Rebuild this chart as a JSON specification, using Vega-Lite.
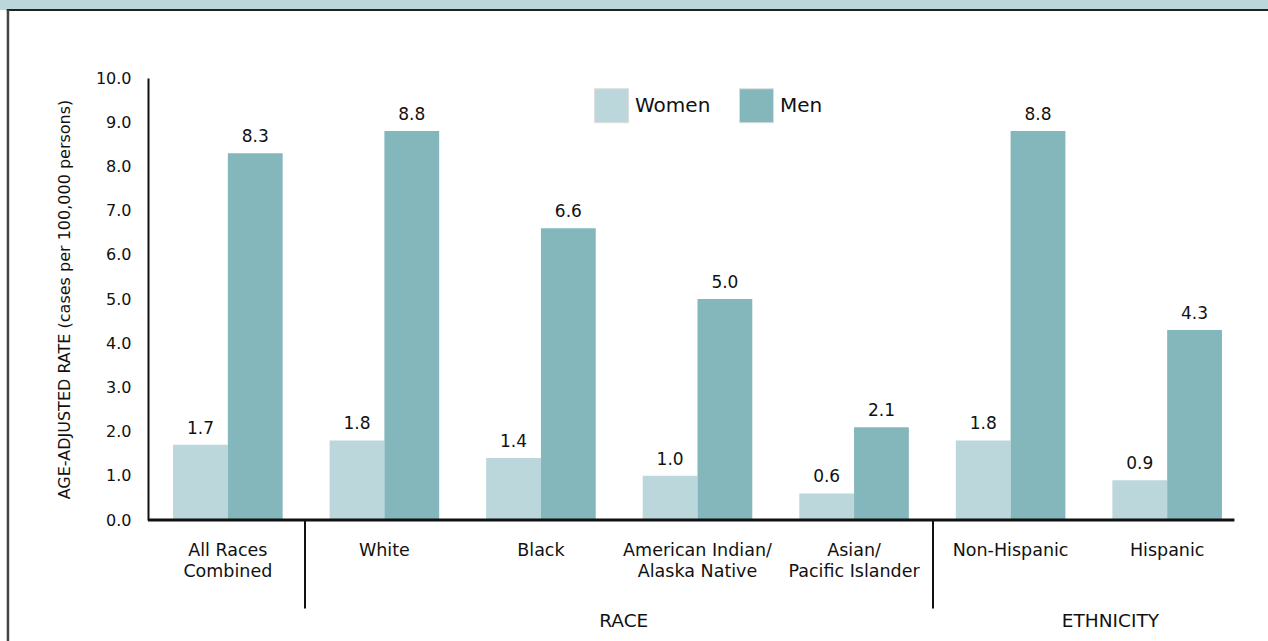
{
  "$schema": "https://vega.github.io/schema/vega-lite/v6.json",
  "width": 1099,
  "height": 442,
  "autosize": {"type": "none"},
  "padding": {"left": 148, "top": 78, "right": 21, "bottom": 121},
  "background": "white",
  "config": {
    "font": "DejaVu Sans",
    "view": {"stroke": null},
    "axis": {"labelColor": "#111", "titleColor": "#111"}
  },
  "data": {
    "values": [
      {"group": "All Races Combined", "sex": "Women", "rate": 1.7},
      {"group": "All Races Combined", "sex": "Men", "rate": 8.3},
      {"group": "White", "sex": "Women", "rate": 1.8},
      {"group": "White", "sex": "Men", "rate": 8.8},
      {"group": "Black", "sex": "Women", "rate": 1.4},
      {"group": "Black", "sex": "Men", "rate": 6.6},
      {"group": "American Indian/Alaska Native", "sex": "Women", "rate": 1.0},
      {"group": "American Indian/Alaska Native", "sex": "Men", "rate": 5.0},
      {"group": "Asian/Pacific Islander", "sex": "Women", "rate": 0.6},
      {"group": "Asian/Pacific Islander", "sex": "Men", "rate": 2.1},
      {"group": "Non-Hispanic", "sex": "Women", "rate": 1.8},
      {"group": "Non-Hispanic", "sex": "Men", "rate": 8.8},
      {"group": "Hispanic", "sex": "Women", "rate": 0.9},
      {"group": "Hispanic", "sex": "Men", "rate": 4.3}
    ]
  },
  "resolve": {"scale": {"x": "independent"}, "axis": {"x": "independent"}},
  "layer": [
    {
      "mark": {"type": "bar"},
      "encoding": {
        "x": {
          "field": "group", "type": "nominal",
          "sort": ["All Races Combined", "White", "Black", "American Indian/Alaska Native", "Asian/Pacific Islander", "Non-Hispanic", "Hispanic"],
          "scale": {"paddingInner": 0.3, "paddingOuter": 0.16},
          "axis": {
            "title": null, "domain": false, "ticks": false, "labelAngle": 0,
            "labelFontSize": 17.5, "labelPadding": 21, "labelLineHeight": 21,
            "labelExpr": "datum.label == 'All Races Combined' ? ['All Races','Combined'] : datum.label == 'American Indian/Alaska Native' ? ['American Indian/','Alaska Native'] : datum.label == 'Asian/Pacific Islander' ? ['Asian/','Pacific Islander'] : datum.label"
          }
        },
        "xOffset": {"field": "sex", "type": "nominal", "sort": ["Women", "Men"]},
        "y": {
          "field": "rate", "type": "quantitative",
          "scale": {"domain": [0, 10], "nice": false},
          "axis": {
            "title": "AGE-ADJUSTED RATE (cases per 100,000 persons)",
            "titleFontSize": 16, "titleFontWeight": "normal", "titlePadding": 23,
            "values": [0, 1, 2, 3, 4, 5, 6, 7, 8, 9, 10], "format": ".1f",
            "grid": false, "ticks": false, "labelFontSize": 16, "labelPadding": 17,
            "domainColor": "#111", "domainWidth": 2
          }
        },
        "color": {
          "field": "sex", "type": "nominal",
          "scale": {"domain": ["Women", "Men"], "range": ["#bcd7db", "#84b7bc"]},
          "legend": {
            "title": null, "orient": "none", "direction": "horizontal",
            "legendX": 446, "legendY": 10, "padding": 0,
            "symbolType": "square", "symbolSize": 1156, "symbolStrokeColor": "#dddddd", "symbolStrokeWidth": 1,
            "labelFontSize": 20, "labelColor": "#111", "labelOffset": 6, "labelBaseline": "middle", "labelOverlap": false, "columnPadding": 26
          }
        }
      }
    },
    {
      "mark": {"type": "text", "baseline": "alphabetic", "dy": -11, "fontSize": 17, "color": "#111"},
      "encoding": {
        "x": {
          "field": "group", "type": "nominal",
          "sort": ["All Races Combined", "White", "Black", "American Indian/Alaska Native", "Asian/Pacific Islander", "Non-Hispanic", "Hispanic"],
          "scale": {"paddingInner": 0.3, "paddingOuter": 0.16},
          "axis": null
        },
        "xOffset": {"field": "sex", "type": "nominal", "sort": ["Women", "Men"]},
        "y": {"field": "rate", "type": "quantitative"},
        "text": {"field": "rate", "type": "quantitative", "format": ".1f"}
      }
    },
    {
      "data": {"values": [{}]},
      "mark": {"type": "rule", "color": "#111", "strokeWidth": 3},
      "encoding": {
        "x": {"datum": 0, "type": "quantitative", "scale": {"domain": [0, 7], "nice": false, "zero": false}, "axis": null},
        "x2": {"datum": 6.92},
        "y": {"datum": 0, "type": "quantitative"}
      }
    },
    {
      "data": {"values": [{}]},
      "mark": {"type": "rule", "color": "#111", "strokeWidth": 2},
      "encoding": {
        "x": {"datum": 1, "type": "quantitative", "scale": {"domain": [0, 7], "nice": false, "zero": false}, "axis": null},
        "y": {"datum": 0, "type": "quantitative"},
        "y2": {"datum": -2}
      }
    },
    {
      "data": {"values": [{}]},
      "mark": {"type": "rule", "color": "#111", "strokeWidth": 2},
      "encoding": {
        "x": {"datum": 5, "type": "quantitative", "scale": {"domain": [0, 7], "nice": false, "zero": false}, "axis": null},
        "y": {"datum": 0, "type": "quantitative"},
        "y2": {"datum": -2}
      }
    },
    {
      "data": {"values": [{}]},
      "mark": {"type": "text", "fontSize": 18.5, "color": "#111", "baseline": "middle"},
      "encoding": {
        "x": {"datum": 3.03, "type": "quantitative", "scale": {"domain": [0, 7], "nice": false, "zero": false}, "axis": null},
        "y": {"datum": -2.28, "type": "quantitative"},
        "text": {"value": "RACE"}
      }
    },
    {
      "data": {"values": [{}]},
      "mark": {"type": "text", "fontSize": 18.5, "color": "#111", "baseline": "middle"},
      "encoding": {
        "x": {"datum": 6.13, "type": "quantitative", "scale": {"domain": [0, 7], "nice": false, "zero": false}, "axis": null},
        "y": {"datum": -2.28, "type": "quantitative"},
        "text": {"value": "ETHNICITY"}
      }
    },
    {
      "data": {"values": [{}]},
      "mark": {"type": "rect", "color": "#bcd7db", "clip": false},
      "encoding": {
        "x": {"datum": -1, "type": "quantitative", "scale": {"domain": [0, 7], "nice": false, "zero": false}, "axis": null},
        "x2": {"datum": 7.2},
        "y": {"datum": 12, "type": "quantitative"},
        "y2": {"datum": 11.54}
      }
    },
    {
      "data": {"values": [{}]},
      "mark": {"type": "rule", "color": "#222", "strokeWidth": 2},
      "encoding": {
        "x": {"datum": -0.9, "type": "quantitative", "scale": {"domain": [0, 7], "nice": false, "zero": false}, "axis": null},
        "x2": {"datum": 7.2},
        "y": {"datum": 11.54, "type": "quantitative"}
      }
    },
    {
      "data": {"values": [{}]},
      "mark": {"type": "rule", "color": "#444", "strokeWidth": 2.5},
      "encoding": {
        "x": {"datum": -0.892, "type": "quantitative", "scale": {"domain": [0, 7], "nice": false, "zero": false}, "axis": null},
        "y": {"datum": 11.54, "type": "quantitative"},
        "y2": {"datum": -3}
      }
    }
  ]
}
